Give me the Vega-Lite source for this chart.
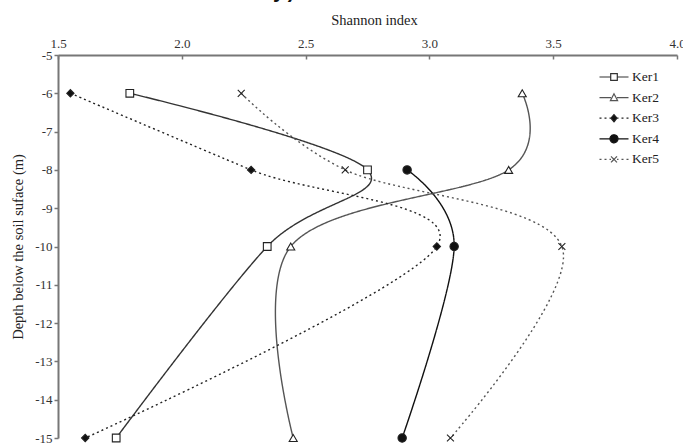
{
  "$schema": "https://vega.github.io/schema/vega-lite/v6.json",
  "width": 619,
  "height": 383,
  "autosize": {"type": "none"},
  "padding": {"left": 58, "top": 55, "right": 6, "bottom": 8},
  "background": "white",
  "title": {"text": "imate reduced diversity).", "anchor": "start", "frame": "bounds", "font": "Liberation Mono", "fontSize": 20, "fontWeight": "bold", "color": "#111", "baseline": "alphabetic", "offset": -6, "dx": -2},
  "config": {
    "view": {"stroke": null},
    "font": "Liberation Serif",
    "axis": {"labelFont": "Liberation Serif", "titleFont": "Liberation Serif", "labelFontSize": 13, "titleFontSize": 14.5, "titleFontWeight": "normal", "labelColor": "#333", "titleColor": "#222", "domainColor": "#777", "domainWidth": 2, "tickColor": "#777", "tickWidth": 1.5, "grid": false}
  },
  "data": {"values": [
    {"series": "Ker1", "depth": -6, "shannon": 1.79},
    {"series": "Ker1", "depth": -8, "shannon": 2.75},
    {"series": "Ker1", "depth": -10, "shannon": 2.345},
    {"series": "Ker1", "depth": -15, "shannon": 1.735},
    {"series": "Ker2", "depth": -6, "shannon": 3.375},
    {"series": "Ker2", "depth": -8, "shannon": 3.32},
    {"series": "Ker2", "depth": -10, "shannon": 2.44},
    {"series": "Ker2", "depth": -15, "shannon": 2.45},
    {"series": "Ker3", "depth": -6, "shannon": 1.55},
    {"series": "Ker3", "depth": -8, "shannon": 2.28},
    {"series": "Ker3", "depth": -10, "shannon": 3.03},
    {"series": "Ker3", "depth": -15, "shannon": 1.61},
    {"series": "Ker4", "depth": -8, "shannon": 2.91},
    {"series": "Ker4", "depth": -10, "shannon": 3.1},
    {"series": "Ker4", "depth": -15, "shannon": 2.89},
    {"series": "Ker5", "depth": -6, "shannon": 2.24},
    {"series": "Ker5", "depth": -8, "shannon": 2.66},
    {"series": "Ker5", "depth": -10, "shannon": 3.535},
    {"series": "Ker5", "depth": -15, "shannon": 3.085}
  ]},
  "encoding": {
    "x": {"field": "shannon", "type": "quantitative", "scale": {"domain": [1.5, 4.0], "nice": false, "zero": false},
      "axis": {"orient": "top", "title": "Shannon index", "titleX": 316, "values": [1.5, 2.0, 2.5, 3.0, 3.5, 4.0], "format": ".1f", "tickSize": -4, "labelPadding": 9, "titlePadding": 10, "labelFlush": false}},
    "y": {"field": "depth", "type": "quantitative", "scale": {"domain": [-15, -5], "nice": false, "zero": false},
      "axis": {"title": "Depth below the soil suface (m)", "values": [-5, -6, -7, -8, -9, -10, -11, -12, -13, -14, -15], "labelExpr": "'' + datum.value", "tickSize": 4, "labelPadding": 2, "titlePadding": 9}}
  },
  "layer": [
    {
      "mark": {"type": "line", "interpolate": "cardinal", "tension": 0, "strokeWidth": 1.4},
      "encoding": {
        "order": {"field": "depth", "type": "quantitative", "sort": "descending"},
        "strokeDash": {"field": "series", "type": "nominal", "scale": {"domain": ["Ker5", "Ker4", "Ker3", "Ker2", "Ker1"], "range": [[2, 3], [1, 0], [2, 3], [1, 0], [1, 0]]}, "legend": null},
        "stroke": {"field": "series", "type": "nominal", "scale": {"domain": ["Ker1", "Ker2", "Ker3", "Ker4", "Ker5"], "range": ["#333333", "#555555", "#222222", "#111111", "#555555"]},
          "legend": {
            "title": null, "orient": "none", "legendX": 545, "legendY": 11,
            "labelFont": "Liberation Serif", "labelFontSize": 13.5, "labelColor": "#222",
            "symbolSize": 400, "labelOffset": 7, "rowPadding": 2.6,
            "encode": {"symbols": {"update": {
              "shape": {"signal": "datum.value === 'Ker1' ? 'M-1.45,0H-0.33M0.33,0H1.45M-0.33,-0.33H0.33V0.33H-0.33Z' : datum.value === 'Ker2' ? 'M-1.45,0H-0.3M0.3,0H1.45M0,-0.38L0.36,0.3H-0.36Z' : datum.value === 'Ker3' ? 'M-1.45,0H-1.25M-0.95,0H-0.75M-0.45,0H-0.3M0.3,0H0.45M0.75,0H0.95M1.25,0H1.45M0,-0.36L0.3,0L0,0.36L-0.3,0Z' : datum.value === 'Ker4' ? 'M-1.45,0H-0.4M0.4,0H1.45M-0.4,0A0.4,0.4,0,1,0,0.4,0A0.4,0.4,0,1,0,-0.4,0Z' : 'M-1.45,0H-1.25M-0.95,0H-0.75M-0.45,0H-0.3M0.3,0H0.45M0.75,0H0.95M1.25,0H1.45M-0.3,-0.3L0.3,0.3M-0.3,0.3L0.3,-0.3'"},
              "fill": {"signal": "datum.value === 'Ker3' || datum.value === 'Ker4' ? '#111' : 'white'"},
              "strokeWidth": {"value": 1.2},
              "strokeDash": {"value": [1, 0]},
              "size": {"value": 400},
              "opacity": {"value": 1}
            }}}
          }}
      }
    },
    {
      "mark": {"type": "point", "strokeWidth": 1.1, "opacity": 1, "stroke": "#222"},
      "encoding": {
        "shape": {"field": "series", "type": "nominal", "scale": {"domain": ["Ker2", "Ker1", "Ker3", "Ker4", "Ker5"], "range": ["triangle-up", "square", "diamond", "circle", "M-1,-1L1,1M-1,1L1,-1"]}, "legend": null},
        "fill": {"field": "series", "type": "nominal", "scale": {"domain": ["Ker1", "Ker3", "Ker2", "Ker4", "Ker5"], "range": ["white", "#111", "white", "#111", "white"]}, "legend": null},
        "size": {"field": "series", "type": "nominal", "scale": {"domain": ["Ker4", "Ker2", "Ker1", "Ker3", "Ker5"], "range": [70, 48, 45, 42, 42]}, "legend": null}
      }
    }
  ]
}
